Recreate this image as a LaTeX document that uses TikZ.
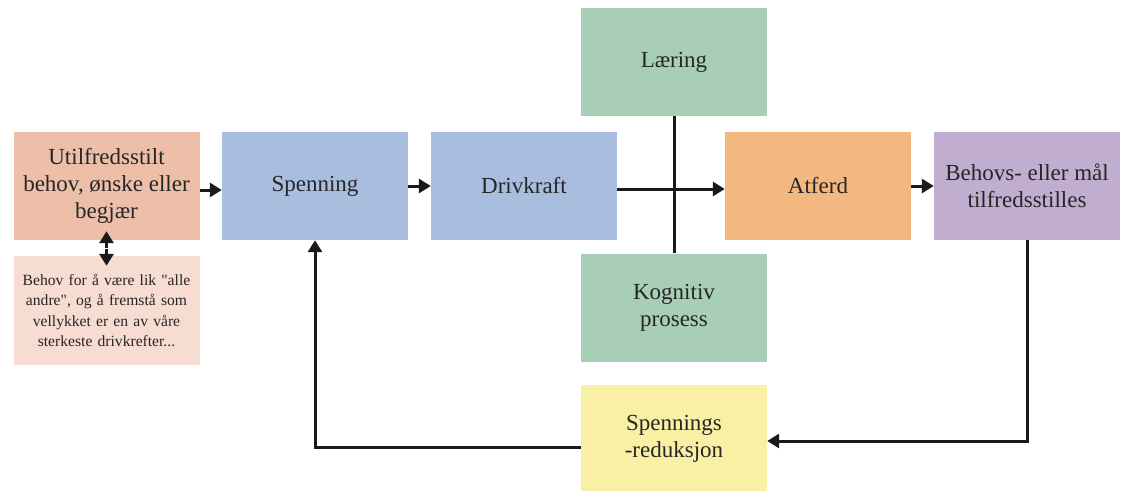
\documentclass[tikz,border=0pt]{standalone}
\usepackage{fontspec}
\setmainfont{Liberation Serif}[Ligatures=TeXOff]
\usetikzlibrary{arrows.meta,calc}
\definecolor{cSalmon}{HTML}{EEBFA8}
\definecolor{cPink}{HTML}{F7DCD2}
\definecolor{cBlue}{HTML}{A9BEDE}
\definecolor{cGreen}{HTML}{A8CFB5}
\definecolor{cOrange}{HTML}{F2B880}
\definecolor{cPurple}{HTML}{C0ADD0}
\definecolor{cYellow}{HTML}{F9F0A5}
\definecolor{cLine}{HTML}{1A1A1A}
\tikzset{
  box/.style={rectangle, draw=none, minimum width=186pt, minimum height=108pt,
    inner sep=0pt, align=center, text=black!85,
    font=\fontsize{23}{27}\selectfont},
  smallbox/.style={box, font=\fontsize{15.6}{20.5}\selectfont, text width=182pt},
  arr/.style={draw=cLine, line width=3pt, -{Triangle[length=12pt,width=14pt]}},
  plain/.style={draw=cLine, line width=3pt},
}
\begin{document}
\begin{tikzpicture}[x=1pt, y=-1pt]
\useasboundingbox (0,0) rectangle (1126,490);
% boxes
\node[box, fill=cSalmon] (U) at (106.5,186) {Utilfredsstilt\\behov, ønske eller\\begjær};
\node[smallbox, fill=cPink, minimum width=186pt, minimum height=109pt] (N) at (106.5,310.5)
  {Behov for å være lik "alle andre", og å fremstå som vellykket er en av våre sterkeste drivkrefter...};
\node[box, fill=cBlue] (S) at (315,186) {Spenning};
\node[box, fill=cBlue] (D) at (524,186) {Drivkraft};
\node[box, fill=cGreen] (L) at (674,62) {Læring};
\node[box, fill=cGreen] (K) at (674,307.5) {Kognitiv\\prosess};
\node[box, fill=cYellow] (R) at (674,439) {Spennings\\-reduksjon};
\node[box, fill=cOrange] (A) at (818,186) {Atferd};
\node[box, fill=cPurple] (B) at (1027,186) {Behovs- eller mål\\tilfredsstilles};
% cognitive influence line
\draw[plain] (L.south) -- (K.north);
% main chain
\draw[arr] ([yshift=-4pt]U.east) -- ([yshift=-4pt]S.west);
\draw[arr] (S.east) -- (D.west);
\draw[arr] ([yshift=-3pt]D.east) -- ([yshift=-3pt]A.west);
\draw[arr] (A.east) -- (B.west);
% feedback loop
\draw[arr] (B.south) |- ([yshift=-2pt]R.east);
\draw[arr] ([yshift=-8pt]R.west) -| (S.south);
% double arrow between need and note
\coordinate (M) at ($(U.south)!0.5!(N.north)$);
\draw[arr] ([yshift=0.5pt]M) -- ([yshift=9pt]U.south);
\draw[arr] ([yshift=-0.5pt]M) -- ([yshift=-10pt]N.north);
\end{tikzpicture}
\end{document}
